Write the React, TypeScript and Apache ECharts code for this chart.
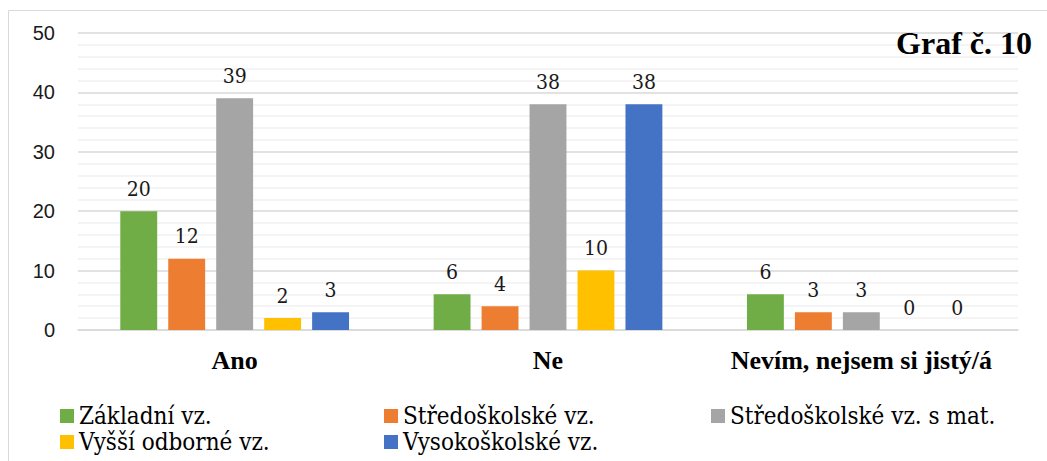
import React, { useEffect, useRef } from "react";
import * as echarts from "echarts";

const categories = ["Ano", "Ne", "Nevím, nejsem si jistý/á"];
const seriesNames = [
  "Základní vz.",
  "Středoškolské vz.",
  "Středoškolské vz. s mat.",
  "Vyšší odborné vz.",
  "Vysokoškolské vz.",
];
const zakladni = [20, 6, 6];
const stredoskolske = [12, 4, 3];
const stredoskolskeMat = [39, 38, 3];
const vyssiOdborne = [2, 10, 0];
const vysokoskolske = [3, 38, 0];
const colors = ["#70ad47", "#ed7d31", "#a5a5a5", "#ffc000", "#4472c4"];
const yTicks = [0, 10, 20, 30, 40, 50];

const SERIF_BOLD = "Liberation Serif";
const SERIF = "DejaVu Serif Condensed";
const SANS = "Liberation Sans";

export default function App() {
  const ref = useRef<HTMLDivElement>(null);
  useEffect(() => {
    if (!ref.current) return;
    const chart = echarts.init(ref.current, null, { renderer: "svg" });
    const values = [zakladni, stredoskolske, stredoskolskeMat, vyssiOdborne, vysokoskolske];
    const legendPos = [
      { left: 60, top: 403 },
      { left: 384, top: 403 },
      { left: 711, top: 403 },
      { left: 60, top: 429 },
      { left: 384, top: 429 },
    ];
    chart.setOption({
      animation: false,
      backgroundColor: "#ffffff",
      color: colors,
      textStyle: { fontFamily: SERIF },
      title: {
        text: "Graf č. 10",
        right: 15,
        top: 27,
        padding: 0,
        textStyle: { fontFamily: SERIF_BOLD, fontWeight: "bold", fontSize: 32, color: "#000" },
      },
      graphic: [
        {
          type: "rect",
          shape: { x: 8.5, y: 10.5, width: 1100, height: 500 },
          style: { fill: "none", stroke: "#d9d9d9", lineWidth: 1 },
          silent: true,
        },
      ],
      legend: legendPos.map((p, i) => ({
        data: [seriesNames[i]],
        left: p.left,
        top: p.top,
        padding: 0,
        itemWidth: 14,
        itemHeight: 14,
        itemGap: 0,
        icon: "rect",
        textStyle: { fontFamily: SERIF, fontSize: 24, lineHeight: 26, color: "#000" },
      })),
      grid: { left: 78, right: 29, top: 33, bottom: 131, containLabel: false },
      xAxis: {
        type: "category",
        data: categories,
        axisLine: { show: true, lineStyle: { color: "#d9d9d9", width: 1.5 } },
        axisTick: { show: false },
        axisLabel: {
          interval: 0,
          margin: 17,
          fontFamily: SERIF_BOLD,
          fontWeight: "bold",
          fontSize: 26,
          color: "#000",
        },
      },
      yAxis: {
        type: "value",
        min: yTicks[0],
        max: yTicks[yTicks.length - 1],
        interval: 10,
        axisLine: { show: false },
        axisTick: { show: false },
        axisLabel: { fontFamily: SANS, fontSize: 20, color: "#1a1a1a", margin: 23 },
        splitLine: { show: true, lineStyle: { color: "#d9d9d9", width: 1.5 } },
        minorTick: { show: false, splitNumber: 5 },
        minorSplitLine: { show: true, lineStyle: { color: "#f0f0f0", width: 1.5 } },
      },
      series: seriesNames.map((name, i) => ({
        name,
        type: "bar",
        data: values[i],
        barGap: "30%",
        barCategoryGap: "27%",
        itemStyle: { color: colors[i] },
        label: {
          show: true,
          position: "top",
          distance: 12,
          fontFamily: SERIF,
          fontSize: 21,
          color: "#1a1a1a",
        },
      })),
    });
    return () => chart.dispose();
  }, []);
  return (
    <div
      ref={ref}
      style={{ position: "absolute", left: 0, top: 0, width: 1047, height: 461 }}
    />
  );
}
